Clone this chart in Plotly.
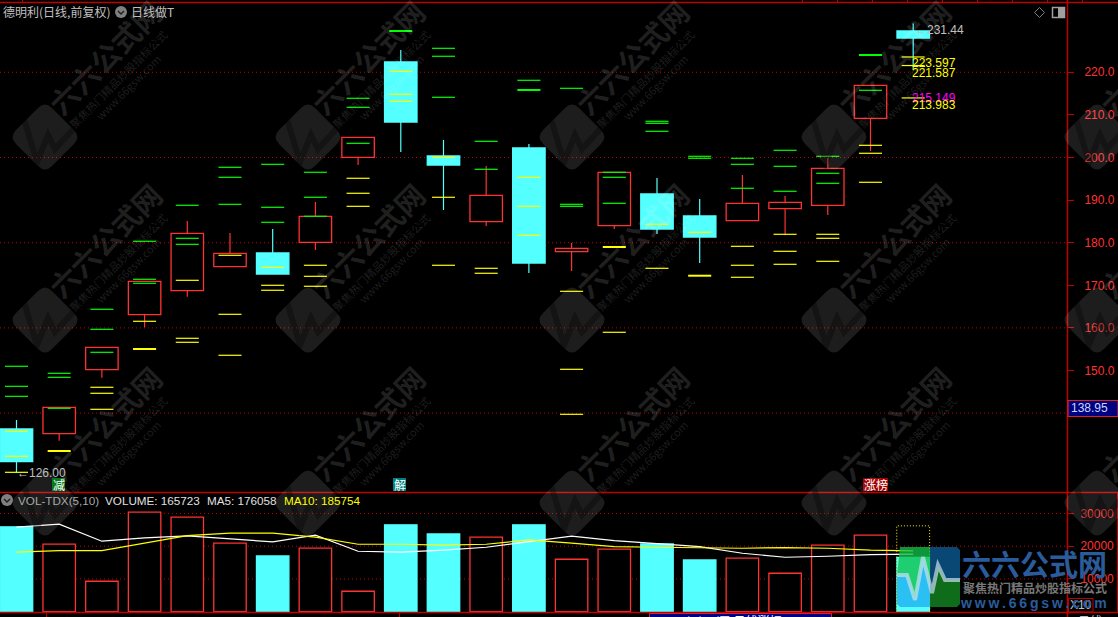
import plotly.graph_objects as go

W, H = 1118, 617
RED = "#ff3232"
FRAME = "#c00000"
CYAN = "#54ffff"
GREEN = "#00ff00"
YELLOW = "#ffff00"
CJK = "Noto Sans CJK SC"
LAT = "Liberation Sans"

idx = list(range(22))
opens = [136.27, 135.16, 150.19, 163.10, 168.73, 174.37, 177.58, 180.09, 200.05, 222.42, 200.35,
         184.93, 202.23, 177.89, 183.99, 191.43, 186.27, 185.16, 187.98, 188.78, 209.20, 229.69]
closes = [128.59, 141.36, 155.45, 170.94, 182.21, 177.51, 172.65, 186.20, 204.74, 208.33, 198.24,
          191.13, 175.23, 178.69, 196.53, 183.22, 181.34, 189.25, 189.48, 197.46, 216.95, 228.05]
highs = [138.38, 141.36, 155.45, 170.94, 185.09, 182.28, 183.22, 189.55, 204.74, 225.23, 204.11,
         198.00, 203.17, 179.93, 196.53, 195.19, 190.26, 195.89, 190.96, 199.88, 216.95, 231.44]
lows = [126.00, 133.52, 148.31, 160.14, 167.32, 174.37, 172.65, 178.29, 198.24, 201.29, 187.68,
        183.92, 172.89, 173.36, 183.22, 182.04, 175.23, 185.16, 181.74, 186.50, 201.53, 220.54]

green_levels = [[150.99, 146.29, 143.94], [149.34, 148.40, 141.13], [164.37, 159.67, 154.27],
                [180.33, 171.41, 170.47], [188.78, 181.03, 179.62], [197.70, 195.35, 189.01],
                [198.40, 188.31, 184.79], [196.53, 190.66, 186.20], [213.90, 211.78, 203.33],
                [], [225.63, 223.76, 214.13], [203.80, 197.23], [218.12], [216.24, 189.01, 188.54],
                [196.53, 195.35, 189.25], [208.50, 208.03, 206.15], [200.28, 199.81],
                [199.81, 198.40, 192.77], [201.69, 197.93, 192.07], [200.28, 196.29, 193.94],
                [215.77], []]
yellow_levels = [[135.73, 129.86, 126.10], [], [146.06, 144.65, 140.89], [161.55],
                 [171.17, 157.56, 156.62], [177.04, 163.19, 153.57], [174.23, 170.00, 168.83],
                 [174.70, 172.11, 169.77], [195.12, 191.60, 188.54], [220.23, 214.84, 213.19],
                 [200.05, 190.66, 174.70], [173.99, 172.82], [195.35, 188.54, 181.74],
                 [168.59, 150.28, 139.72], [158.97], [184.32, 173.99], [182.44],
                 [179.15, 174.70, 171.88], [181.97, 177.98, 174.93], [181.97, 181.03, 175.63],
                 [202.86, 200.99, 194.18], [223.597, 221.587, 213.983]]
thick_green = {9: 229.69, 12: 215.85, 20: 224.06}
thick_yellow = {1: 131.10, 3: 155.05, 14: 178.99, 16: 172.25}

volume = [25900, 20610, 9300, 30400, 28870, 20920, 17030, 19390, 6240, 26510, 23760,
          22750, 26510, 16020, 19080, 20700, 15810, 16330, 11740, 20310, 23360, 16572]
predicted_volume_last = 26210
ma5 = [25800, 26720, 21520, 22540, 23150, 22130, 21310, 23350, 18460, 18160, 18770,
       19680, 21310, 23050, 21720, 20910, 19890, 17850, 16630, 16930, 17440, 17606]
ma10 = [18160, 18660, 18660, 20910, 23250, 23970, 23970, 22740, 20600, 20600, 20300,
        20600, 21930, 20910, 19890, 19680, 19580, 19380, 19580, 19380, 18770, 18575]

price_ticks = [220, 210, 200, 190, 180, 170, 160, 150]
price_grid = [220, 200, 180, 160, 140]
vol_ticks = [30000, 20000, 10000]


def px(x):
    return x / W


def py(y):
    return 1 - y / H


fig = go.Figure()


def segs(items, half=0.27):
    xs, ys = [], []
    for i, vals in items:
        for v in vals:
            xs += [i - half, i + half, None]
            ys += [v, v, None]
    return xs, ys


def add_line(xs, ys, color, width=1, xa="x", ya="y", dash=None):
    fig.add_trace(go.Scatter(x=xs, y=ys, mode="lines", xaxis=xa, yaxis=ya, hoverinfo="skip",
                             line=dict(color=color, width=width, dash=dash, shape="linear"),
                             showlegend=False, connectgaps=False))


# candle bodies
ups = [c >= o for o, c in zip(opens, closes)]
fig.add_trace(go.Bar(x=idx, y=[abs(c - o) for o, c in zip(opens, closes)],
                     base=[min(o, c) for o, c in zip(opens, closes)], width=0.76,
                     marker=dict(color=["#000000" if u else CYAN for u in ups],
                                 line=dict(color=[RED if u else CYAN for u in ups], width=1.3)),
                     xaxis="x", yaxis="y", showlegend=False, hoverinfo="skip"))

# wicks
for flag, col in ((True, RED), (False, CYAN)):
    xs, ys = [], []
    for i in idx:
        if ups[i] != flag:
            continue
        top, bot = max(opens[i], closes[i]), min(opens[i], closes[i])
        if highs[i] > top:
            xs += [i, i, None]
            ys += [top, highs[i], None]
        if lows[i] < bot:
            xs += [i, i, None]
            ys += [bot, lows[i], None]
    add_line(xs, ys, col, 1.2)

xs, ys = segs(enumerate(green_levels))
add_line(xs, ys, GREEN, 1.2)
xs, ys = segs(enumerate(yellow_levels))
add_line(xs, ys, YELLOW, 1.2)
xs, ys = segs([(k, [v]) for k, v in thick_green.items()])
add_line(xs, ys, GREEN, 2)
xs, ys = segs([(k, [v]) for k, v in thick_yellow.items()])
add_line(xs, ys, YELLOW, 2)

# volume
vol_up = ups
fig.add_trace(go.Bar(x=idx, y=volume, width=0.76, xaxis="x2", yaxis="y2",
                     marker=dict(color=["#000000" if u else CYAN for u in vol_up],
                                 line=dict(color=[RED if u else CYAN for u in vol_up], width=1.3)),
                     showlegend=False, hoverinfo="skip"))
add_line([21 - .385, 21 - .385, 21 + .385, 21 + .385], [0, predicted_volume_last, predicted_volume_last, 0],
         YELLOW, 1, "x2", "y2", "1px,2px")
add_line(idx, ma5, "#ffffff", 1.2, "x2", "y2")
add_line(idx, ma10, YELLOW, 1.2, "x2", "y2")

shapes = []
# dotted grids
for v in price_grid:
    shapes.append(dict(type="line", xref="paper", yref="y", x0=0, x1=px(1067), y0=v, y1=v, layer="below",
                       line=dict(color=FRAME, width=1, dash="1px,3px")))
for v in vol_ticks:
    shapes.append(dict(type="line", xref="paper", yref="y2", x0=0, x1=px(1067), y0=v, y1=v, layer="below",
                       line=dict(color=FRAME, width=1, dash="1px,3px")))


def frame_line(x0, y0, x1, y1, color=FRAME, width=1):
    shapes.append(dict(type="line", xref="paper", yref="paper", x0=px(x0), x1=px(x1), y0=py(y0), y1=py(y1),
                       line=dict(color=color, width=width)))


def rect(x0, y0, x1, y1, fill, line=None, width=1, layer="above"):
    shapes.append(dict(type="rect", xref="paper", yref="paper", x0=px(x0), x1=px(x1), y0=py(y0), y1=py(y1),
                       fillcolor=fill, layer=layer,
                       line=dict(color=line or "rgba(0,0,0,0)", width=width if line else 0)))


def path(points, fill=None, line=None, width=1, close=True):
    d = "M " + " L ".join(f"{px(a):.5f} {py(b):.5f}" for a, b in points) + (" Z" if close else "")
    shapes.append(dict(type="path", xref="paper", yref="paper", path=d, layer="above",
                       fillcolor=fill or "rgba(0,0,0,0)",
                       line=dict(color=line or "rgba(0,0,0,0)", width=width if line else 0)))


frame_line(0, 2.5, W, 2.5, FRAME, 1.5)
frame_line(0, 492.5, W, 492.5, FRAME, 1.5)
frame_line(0, 612.5, W, 612.5, FRAME, 1.5)
frame_line(1067.5, 0, 1067.5, H, FRAME, 1.5)
frame_line(1117.5, 493, 1117.5, 612, FRAME, 1)
for k in range(9):
    frame_line(802.5 + 35 * k, 0, 802.5 + 35 * k, 2, FRAME, 1)
frame_line(22.5, 0, 22.5, 2, FRAME, 1)
frame_line(46.5, 613, 46.5, H, FRAME, 1)
frame_line(399.5, 613, 399.5, H, FRAME, 1)

annotations = []


def text(x, y, t, color="#c0c0c0", size=12, font=LAT, anchor="left", bg=None, weight=None):
    annotations.append(dict(xref="paper", yref="paper", x=px(x), y=py(y), text=t, showarrow=False,
                            xanchor=anchor, yanchor="middle", borderpad=0, bgcolor=bg,
                            font=dict(family=font, size=size, color=color, weight=weight)))


# watermarks
def rounded_diamond(cx, cy):
    r, c = 36, 7
    def p(a, b):
        return f"{px(cx + a):.5f} {py(cy + b):.5f}"
    d = (f"M {p(-c, -r + c)} Q {p(0, -r)} {p(c, -r + c)} L {p(r - c, -c)} Q {p(r, 0)} {p(r - c, c)} "
         f"L {p(c, r - c)} Q {p(0, r)} {p(-c, r - c)} L {p(-r + c, c)} Q {p(-r, 0)} {p(-r + c, -c)} Z")
    shapes.append(dict(type="path", xref="paper", yref="paper", path=d, layer="above",
                       fillcolor="rgba(255,255,255,0.115)", line=dict(width=0)))
    path([(cx - 21, cy - 18), (cx - 8, cy + 25), (cx + 3, cy - 2), (cx + 10, cy + 12), (cx + 30, cy - 10)],
         line="rgba(0,0,0,0.30)", width=6, close=False)


for cy in (137, 320, 503):
    for cx in (45, 308, 572, 834, 1097):
        rounded_diamond(cx, cy)
        for dx, dy, t, sz in ((59, -80, "六六公式网", 29), (73, -58, "聚焦热门精品炒股指标公式", 11),
                              (83, -50, "www.66gsw.com", 11)):
            if cy + dy > 612 or cx + dx > 1118 + 60:
                continue
            annotations.append(dict(xref="paper", yref="paper", x=px(cx + dx), y=py(cy + dy), text=t,
                                    showarrow=False, textangle=-45, xanchor="center", yanchor="middle",
                                    font=dict(family=CJK, size=sz, color="rgba(255,255,255,0.13)",
                                              weight="bold" if sz > 20 else None)))

# header text and icons
text(2, 12, "德明利(日线,前复权)", "#c0c0c0", 12, CJK)
shapes.append(dict(type="circle", xref="paper", yref="paper", x0=px(115), x1=px(127), y0=py(6), y1=py(18),
                   fillcolor="#808080", line=dict(width=0), layer="above"))
path([(118, 11), (121, 14), (124, 11)], line="#202020", width=1.5, close=False)
text(130, 12, "日线做T", "#c0c0c0", 12, CJK)
path([(1039.5, 7.5), (1044.5, 12.5), (1039.5, 17.5), (1034.5, 12.5)], line="#808080", width=1)
rect(1052.5, 7.5, 1064.5, 17.5, "rgba(0,0,0,0)", "#a0a0a0", 1.5)
rect(1058, 8, 1064, 17, "#a0a0a0")

shapes.append(dict(type="circle", xref="paper", yref="paper", x0=px(1), x1=px(13), y0=py(494), y1=py(506),
                   fillcolor="#808080", line=dict(width=0), layer="above"))
path([(4, 499), (7, 502), (10, 499)], line="#202020", width=1.5, close=False)
text(17, 500, "VOL-TDX(5,10)", "#a8a8a8", 11.7)
text(104, 500, "VOLUME: 165723", "#e0e0e0", 11.7)
text(206, 500, "MA5: 176058", "#e0e0e0", 11.7)
text(283, 500, "MA10: 185754", YELLOW, 11.7)


def price_label(i, v, t, color, dx, dy, font=LAT):
    annotations.append(dict(xref="x", yref="y", x=i, y=v, text=t, showarrow=False, xanchor="left",
                            yanchor="middle", xshift=dx, yshift=dy, borderpad=0,
                            font=dict(family=font, size=12, color=color)))


price_label(21, highs[21], "←231.44", "#c0c0c0", 1, -6)
price_label(0, lows[0], "←126.00", "#c0c0c0", 0, 0)
price_label(21, 223.597, "223.597", YELLOW, -2, -6)
price_label(21, 221.587, "221.587", YELLOW, -2, -7)
price_label(21, 215.149, "215.149", "#ff00ff", -2, -5)
price_label(21, 213.983, "213.983", YELLOW, -2, -7)

# signal tags
rect(52, 478, 65, 491, "#0a7a1a")
text(58.5, 484.5, "减", "#ffffff", 12, CJK, "center")
rect(393, 478, 406, 491, "#008080")
text(399.5, 484.5, "解", "#ffffff", 12, CJK, "center")
rect(863, 478, 888, 491, "#a00000")
text(875.5, 484.5, "涨榜", "#ffffff", 12, CJK, "center")

# current price box on the axis
rect(1068, 400.5, W, 416.5, "#000080", "#e02020", 1.2)
text(1070, 408, "138.95", "#c8d8ff", 12)

# X10 box
rect(1068.5, 598.5, 1093, 612, "rgba(0,0,0,0)", FRAME, 1)
text(1080.5, 605, "X10", "#c0c0c0", 12, LAT, "center")

# bottom strip
rect(649.5, 613.5, 831.5, 620, "#000080", "#e02020", 1)
text(740, 620, "2025/8/15/五 日线涨幅10.95%", "#ffffff", 12, CJK, "center")
text(1090, 620, "日线", "#c0c0c0", 12, CJK, "center")

# corner logo
LOGO = 0.78
pulse = [(897, 575), (907, 575), (915, 600), (923, 557), (930, 585)]
pulse2 = [(930, 585), (932, 593), (938, 565), (945, 580), (960, 580)]
for pts, col in (([(900, 547), (930, 547)] + pulse[::-1], "#12c04a"),
                 (pulse + [(930, 607), (900, 607), (897, 604)], "#20aef0"),
                 (pulse2 + [(960, 550), (957, 547), (930, 547)], "#0b5b96"),
                 (pulse2[::-1] + [(930, 607), (957, 607), (960, 604)], "#128a22")):
    d = "M " + " L ".join(f"{px(a):.5f} {py(b):.5f}" for a, b in pts) + " Z"
    shapes.append(dict(type="path", xref="paper", yref="paper", path=d, layer="above", fillcolor=col,
                       opacity=LOGO, line=dict(width=0)))
path(pulse + pulse2[1:], line="rgba(200,225,235,0.7)", width=4, close=False)
text(1034, 563, "六六公式网", "#2a5c9c", 29, CJK, "center", weight="bold")
text(1035, 587, "聚焦热门精品炒股指标公式", "#787878", 12, CJK, "center", weight="bold")
text(1033, 603, "w\u2009w\u2009w\u2009.\u20096\u20096\u2009g\u2009s\u2009w\u2009.\u2009c\u2009o\u2009m", "#2a5c9c", 14, LAT,
     "center", weight="bold")

x_range = [-0.386, 24.602]
fig.update_layout(
    width=W, height=H, margin=dict(l=0, r=0, t=0, b=0, pad=0), autosize=False,
    paper_bgcolor="#000000", plot_bgcolor="#000000", barmode="overlay", showlegend=False,
    shapes=shapes, annotations=annotations,
    xaxis=dict(domain=[0, px(1067)], range=x_range, visible=False, anchor="y"),
    xaxis2=dict(domain=[0, px(1067)], range=x_range, visible=False, anchor="y2"),
    yaxis=dict(domain=[py(492), py(2)], range=[121.48, 236.50], side="right", anchor="x",
               tickmode="array", tickvals=price_ticks, ticktext=[f"{v:.1f}" for v in price_ticks],
               ticks="outside", ticklen=6, tickwidth=1, tickcolor=FRAME, ticklabelstandoff=8,
               tickfont=dict(family=LAT, size=12, color=RED),
               showgrid=False, zeroline=False, showline=False),
    yaxis2=dict(domain=[py(612), py(493)], range=[-90, 36240], side="right", anchor="x2",
                tickmode="array", tickvals=vol_ticks, ticktext=[str(v) for v in vol_ticks],
                ticks="outside", ticklen=6, tickwidth=1, tickcolor=FRAME, ticklabelstandoff=4,
                tickfont=dict(family=LAT, size=12, color=RED),
                showgrid=False, zeroline=False, showline=False),
)

fig.write_html("out.html", config={"displayModeBar": False, "staticPlot": True},
               post_script="document.body.style.margin='0';document.body.style.background='#000';"
                           "document.documentElement.style.overflow='hidden';")
